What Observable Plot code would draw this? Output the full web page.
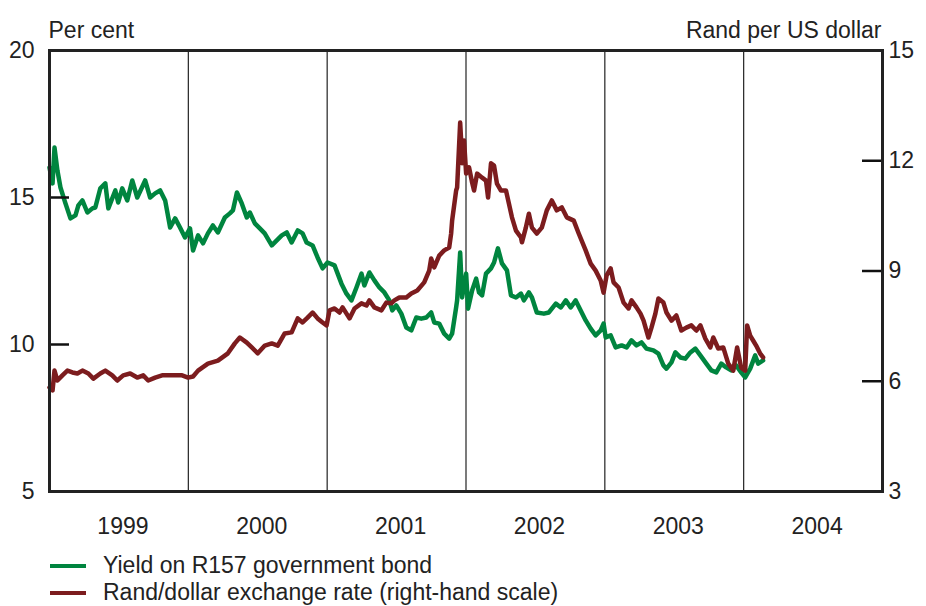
<!DOCTYPE html>
<html><head><meta charset="utf-8">
<script src="https://cdn.jsdelivr.net/npm/d3@7"></script>
<script src="https://cdn.jsdelivr.net/npm/@observablehq/plot@0.6"></script>
<style>
body{margin:0;background:#fff;font-family:"Liberation Sans",Arial,sans-serif;}
#wrap{position:relative;width:926px;height:606px;overflow:hidden}
#chart{position:absolute;left:0;top:0}
.leg{position:absolute;left:50px;font-size:23px;color:#222;display:flex;align-items:center;height:27px;line-height:27px;white-space:nowrap}
.sw{display:inline-block;width:36px;height:4px;margin-right:17px}
</style></head><body><div id="wrap"><div id="chart"></div>
<div class="leg" id="leg1" style="top:552px"><span class="sw" id="sw1"></span><span id="lt1"></span></div>
<div class="leg" id="leg2" style="top:579px"><span class="sw" id="sw2"></span><span id="lt2"></span></div>
</div>
<script>
// Decimal-year dates and values
const yieldT = [1999.000,1999.022,1999.036,1999.057,1999.079,1999.115,1999.151,1999.187,1999.208,1999.237,1999.273,1999.309,1999.330,1999.366,1999.402,1999.424,1999.474,1999.495,1999.524,1999.560,1999.596,1999.632,1999.689,1999.725,1999.761,1999.797,1999.833,1999.869,1999.905,1999.940,1999.976,2000.012,2000.034,2000.070,2000.106,2000.141,2000.177,2000.213,2000.263,2000.299,2000.321,2000.350,2000.385,2000.421,2000.443,2000.479,2000.515,2000.550,2000.601,2000.637,2000.673,2000.709,2000.744,2000.788,2000.823,2000.852,2000.895,2000.931,2000.967,2001.003,2001.053,2001.103,2001.139,2001.175,2001.211,2001.247,2001.268,2001.304,2001.340,2001.376,2001.412,2001.448,2001.469,2001.498,2001.534,2001.570,2001.606,2001.642,2001.678,2001.714,2001.749,2001.771,2001.807,2001.843,2001.879,2001.900,2001.929,2001.936,2001.958,2001.972,2002.001,2002.015,2002.044,2002.073,2002.094,2002.116,2002.144,2002.180,2002.202,2002.230,2002.259,2002.295,2002.324,2002.360,2002.396,2002.417,2002.453,2002.475,2002.510,2002.561,2002.597,2002.647,2002.683,2002.719,2002.754,2002.790,2002.826,2002.862,2002.898,2002.934,2002.970,2002.991,2003.006,2003.042,2003.078,2003.121,2003.157,2003.192,2003.228,2003.264,2003.300,2003.350,2003.386,2003.422,2003.444,2003.480,2003.508,2003.544,2003.580,2003.616,2003.652,2003.688,2003.731,2003.767,2003.803,2003.839,2003.874,2003.910,2003.946,2003.982,2004.011,2004.047,2004.083,2004.104,2004.140];
const yieldV = [16.02,15.48,16.70,15.92,15.34,14.80,14.29,14.39,14.73,14.90,14.49,14.63,14.66,15.31,15.48,14.63,15.24,14.83,15.31,14.90,15.58,15.00,15.58,15.00,15.14,15.24,14.90,13.98,14.29,13.98,13.64,13.95,13.20,13.71,13.44,13.78,14.05,13.81,14.32,14.46,14.56,15.17,14.80,14.32,14.49,14.12,13.95,13.78,13.37,13.54,13.71,13.81,13.47,13.88,13.78,13.47,13.37,12.96,12.59,12.79,12.69,12.07,11.73,11.50,11.94,12.41,12.01,12.45,12.18,11.94,11.77,11.50,11.16,11.33,11.05,10.58,10.48,10.92,10.88,10.92,11.09,10.75,10.71,10.37,10.20,10.37,11.26,11.50,13.13,11.60,12.41,11.22,11.84,12.24,11.77,11.67,12.41,12.59,12.79,13.27,12.76,12.52,11.67,11.60,11.73,11.50,11.77,11.60,11.09,11.05,11.09,11.39,11.26,11.50,11.26,11.50,11.16,10.82,10.54,10.31,10.48,10.71,10.24,10.31,9.90,9.97,9.90,10.14,9.97,10.07,9.86,9.80,9.69,9.29,9.18,9.39,9.73,9.56,9.52,9.73,9.86,9.63,9.35,9.12,9.05,9.35,9.22,9.12,9.29,9.05,8.88,9.18,9.63,9.35,9.46];
const randT = [1999.000,1999.022,1999.036,1999.057,1999.093,1999.129,1999.165,1999.201,1999.237,1999.280,1999.316,1999.366,1999.402,1999.452,1999.488,1999.531,1999.581,1999.632,1999.675,1999.711,1999.761,1999.811,1999.883,1999.955,1999.998,2000.034,2000.070,2000.141,2000.213,2000.285,2000.335,2000.371,2000.421,2000.457,2000.500,2000.551,2000.601,2000.644,2000.694,2000.744,2000.788,2000.823,2000.859,2000.895,2000.931,2000.967,2000.996,2001.017,2001.053,2001.089,2001.111,2001.161,2001.197,2001.247,2001.283,2001.304,2001.340,2001.391,2001.426,2001.462,2001.484,2001.520,2001.570,2001.606,2001.649,2001.699,2001.735,2001.749,2001.771,2001.807,2001.843,2001.879,2001.893,2001.900,2001.929,2001.936,2001.958,2001.965,2001.972,2001.986,2002.001,2002.022,2002.044,2002.058,2002.080,2002.116,2002.144,2002.159,2002.180,2002.202,2002.223,2002.252,2002.288,2002.309,2002.331,2002.360,2002.396,2002.403,2002.431,2002.453,2002.475,2002.510,2002.546,2002.582,2002.618,2002.654,2002.690,2002.726,2002.776,2002.812,2002.862,2002.898,2002.934,2002.970,2002.991,2003.013,2003.042,2003.063,2003.099,2003.135,2003.171,2003.192,2003.228,2003.257,2003.279,2003.314,2003.336,2003.364,2003.386,2003.422,2003.444,2003.480,2003.515,2003.551,2003.587,2003.623,2003.659,2003.688,2003.724,2003.760,2003.781,2003.817,2003.853,2003.889,2003.925,2003.953,2003.982,2004.011,2004.025,2004.047,2004.068,2004.090,2004.118,2004.140];
const randV = [5.83,5.75,6.29,6.02,6.16,6.29,6.24,6.21,6.29,6.21,6.07,6.21,6.29,6.16,6.02,6.16,6.21,6.10,6.16,6.02,6.10,6.16,6.16,6.16,6.10,6.13,6.29,6.48,6.56,6.76,7.03,7.19,7.05,6.92,6.76,6.97,7.03,6.97,7.30,7.33,7.71,7.60,7.73,7.87,7.71,7.60,7.52,7.93,7.98,7.87,8.01,7.71,7.98,8.12,8.06,8.20,8.01,7.93,8.14,8.12,8.20,8.28,8.28,8.39,8.47,8.69,9.01,9.34,9.10,9.42,9.56,9.64,10.02,10.37,11.19,11.27,13.04,12.55,11.93,12.55,11.65,11.82,11.41,11.19,11.65,11.54,11.46,11.00,11.93,11.87,11.38,11.19,11.19,10.84,10.46,10.10,9.91,9.78,10.18,10.56,10.18,10.02,10.18,10.65,10.92,10.65,10.73,10.46,10.37,10.02,9.56,9.20,9.01,8.74,8.41,8.88,9.07,8.69,8.55,8.14,7.98,8.20,8.01,7.84,7.65,7.19,7.46,7.84,8.25,8.14,7.87,7.65,7.79,7.38,7.46,7.52,7.38,7.52,7.16,6.92,7.19,6.89,6.92,6.48,6.29,6.92,6.37,6.29,7.52,7.24,7.11,6.97,6.76,6.65];

const yearLabels = [1999, 2000, 2001, 2002, 2003, 2004];
const yearLines = [2000, 2001, 2002, 2003, 2004];
const leftTicks = [5, 10, 15, 20];
const leftInner = [10, 15];
const rightTicks = [3, 6, 9, 12, 15];
const rightInner = [6, 9, 12];
const seriesNames = ["Yield on R157 government bond", "Rand/dollar exchange rate (right-hand scale)"];
const colors = ["#00853f", "#7c1c1e"];
const leftUnit = "Per cent";
const rightUnit = "Rand per US dollar";

// map right-hand scale (3..15) onto left scale (5..20)
const toLeft = r => 5 + (r - 3) * 15 / 12;
const toRight = l => 3 + (l - 5) * 12 / 15;

const yieldRows = yieldT.map((t, i) => ({t, v: yieldV[i]}));
const randRows = randT.map((t, i) => ({t, v: toLeft(randV[i])}));

const chart = Plot.plot({
  width: 926, height: 550,
  marginTop: 50, marginBottom: 59, marginLeft: 49, marginRight: 44,
  style: {fontFamily: "'Liberation Sans', Arial, sans-serif", fontSize: "23px", color: "#222", background: "#fff"},
  x: {domain: [1999, 2005], label: null},
  y: {domain: [5, 20], label: null},
  marks: [
    Plot.ruleX(yearLines, {stroke: "#222", strokeWidth: 1.2}),
    Plot.line(yieldRows, {x: "t", y: "v", stroke: colors[0], strokeWidth: 4.5, strokeLinejoin: "round"}),
    Plot.line(randRows, {x: "t", y: "v", stroke: colors[1], strokeWidth: 4.5, strokeLinejoin: "round"}),
    Plot.tickY(leftInner, {y: d => d, stroke: "#111", strokeWidth: 2.5, insetRight: 813}),
    Plot.tickY(rightInner.map(toLeft), {y: d => d, stroke: "#111", strokeWidth: 2.5, insetLeft: 813}),
    Plot.frame({stroke: "#222", strokeWidth: 3}),
    Plot.axisY(leftTicks, {anchor: "left", tickSize: 0, tickPadding: 15, fill: "#222", tickFormat: d => String(d)}),
    Plot.axisY(rightTicks.map(toLeft), {anchor: "right", tickSize: 0, tickPadding: 6, fill: "#222", tickFormat: d => String(Math.round(toRight(d)))}),
    Plot.axisX(yearLabels.map(y => y + 0.5), {anchor: "bottom", tickSize: 0, tickPadding: 26, dx: 4, fill: "#222", tickFormat: d => String(Math.floor(d))}),
    Plot.text([leftUnit], {frameAnchor: "top-left", textAnchor: "start", lineAnchor: "bottom", dy: -13, dx: -1, text: d => d, fill: "#222"}),
    Plot.text([rightUnit], {frameAnchor: "top-right", textAnchor: "end", lineAnchor: "bottom", dy: -13, dx: -1, text: d => d, fill: "#222"})
  ]
});
document.getElementById("chart").append(chart);
document.getElementById("sw1").style.background = colors[0];
document.getElementById("sw2").style.background = colors[1];
document.getElementById("lt1").textContent = seriesNames[0];
document.getElementById("lt2").textContent = seriesNames[1];
</script></body></html>
